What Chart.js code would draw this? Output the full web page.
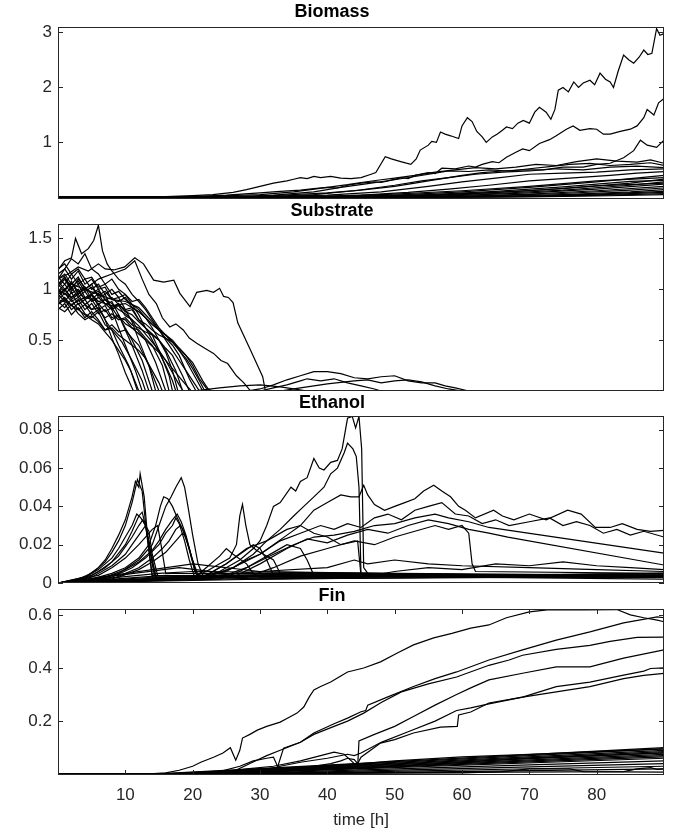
<!DOCTYPE html>
<html>
<head>
<meta charset="utf-8">
<script src="https://cdn.jsdelivr.net/npm/chart.js@4.4.0/dist/chart.umd.min.js"></script>
<style>
  body { margin: 0; background: #fff; }
  canvas { position: absolute; left: 0; }
</style>
</head>
<body>
<canvas id="biomass" width="686" height="200" style="top:0"></canvas>
<canvas id="substrate" width="686" height="192" style="top:200px"></canvas>
<canvas id="ethanol" width="686" height="208" style="top:392px"></canvas>
<canvas id="fin" width="686" height="252" style="top:585px"></canvas>
<script>
// tick labels
const timeTicks = [10, 20, 30, 40, 50, 60, 70, 80];
const biomassTicks = [1, 2, 3];
const substrateTicks = [0.5, 1, 1.5];
const ethanolTicks = [0, 0.02, 0.04, 0.06, 0.08];
const finTicks = [0.2, 0.4, 0.6];

// each run is a list of [time, value] pairs
const biomassRuns = [
  [[0,0],[10,0.002],[15,0.01],[20,0.03],[23,0.05],[26,0.09],[28,0.14],[30,0.2],[32,0.26],[34,0.3],[35,0.33],[36,0.36],[37,0.34],[38,0.38],[39,0.36],[40.5,0.38],[42,0.35],[43.5,0.34],[45,0.36],[46.5,0.42],[47.2,0.45],[48.6,0.74],[49.5,0.7],[50.9,0.65],[52.4,0.6],[53.2,0.7],[53.8,0.86],[55,0.95],[55.5,1.02],[56.2,1.0],[56.8,1.19],[57.5,1.15],[58.3,1.12],[59.5,1.07],[60,1.3],[60.8,1.45],[61.5,1.38],[62.2,1.2],[63,1.1],[63.6,1.0],[64.5,1.1],[65.2,1.15],[66,1.22],[66.6,1.28],[67.5,1.25],[68.3,1.35],[69.1,1.4],[70,1.35],[70.8,1.55],[71.5,1.64],[72.5,1.55],[73.2,1.42],[73.8,1.6],[74.3,1.95],[75,2.0],[75.8,1.92],[76.6,2.1],[77.3,2.0],[78,2.08],[79,2.13],[79.7,2.05],[80.5,2.26],[81.3,2.15],[82,2.1],[82.5,2.0],[83.2,2.3],[84,2.59],[84.8,2.5],[85.5,2.44],[86.3,2.55],[87,2.68],[87.6,2.6],[88.2,2.62],[88.9,3.07],[89.4,2.95],[90,2.98]],
  [[0,0],[15,0.005],[20,0.015],[25,0.04],[30,0.08],[33,0.11],[36,0.13],[38,0.16],[40,0.18],[41.5,0.17],[43,0.22],[45,0.26],[47,0.28],[48,0.27],[49,0.3],[51,0.36],[52,0.34],[53,0.4],[55,0.45],[56,0.43],[57,0.53],[59,0.52],[61,0.57],[62,0.55],[63,0.6],[64.5,0.65],[65.5,0.63],[66.6,0.73],[68,0.82],[69,0.88],[70,0.85],[71.5,0.98],[73,1.05],[74,1.12],[75.5,1.24],[76.5,1.3],[77.5,1.22],[79,1.25],[80,1.24],[81,1.15],[82,1.15],[83.5,1.2],[85,1.24],[86,1.3],[87,1.45],[87.5,1.6],[88.5,1.5],[89.2,1.72],[90,1.8]],
  [[0,0],[20,0.005],[30,0.02],[40,0.08],[45,0.13],[50,0.2],[53,0.26],[55,0.3],[58,0.36],[60,0.4],[63,0.45],[66,0.48],[69,0.5],[72,0.5],[75,0.55],[78,0.55],[80,0.6],[82,0.62],[84,0.72],[85.5,0.85],[86.5,1.04],[87.5,0.95],[88.9,0.91],[90,1.04]],
  [[0,0],[20,0.01],[30,0.05],[35,0.1],[40,0.18],[43,0.23],[45,0.27],[48,0.32],[50,0.35],[53,0.4],[56,0.46],[59,0.5],[62,0.54],[65,0.52],[68,0.55],[71,0.6],[74,0.58],[77,0.65],[80,0.7],[83,0.66],[86,0.64],[88,0.68],[90,0.62]],
  [[0,0],[25,0.01],[32,0.04],[38,0.1],[42,0.18],[46,0.25],[50,0.32],[53,0.38],[56,0.44],[58,0.48],[61,0.47],[64,0.5],[67,0.48],[70,0.52],[73,0.56],[76,0.6],[79,0.62],[82,0.58],[85,0.6],[88,0.63],[90,0.58]],
  [[0,0],[30,0.01],[38,0.05],[44,0.12],[50,0.22],[54,0.3],[58,0.36],[62,0.42],[66,0.46],[70,0.48],[74,0.52],[78,0.5],[82,0.55],[86,0.57],[90,0.54]],
  [[0,0],[30,0.008],[40,0.04],[48,0.1],[55,0.2],[60,0.28],[65,0.35],[70,0.42],[75,0.44],[80,0.46],[85,0.5],[90,0.52]],
  [[0,0],[35,0.008],[45,0.04],[52,0.09],[58,0.15],[64,0.22],[70,0.3],[76,0.35],[82,0.4],[86,0.44],[90,0.47]],
  [[0,0],[40,0.01],[50,0.04],[60,0.1],[70,0.18],[80,0.28],[90,0.4]],
  [[0,0],[40,0.005],[55,0.04],[65,0.09],[75,0.16],[85,0.26],[90,0.33]],
  [[0,0],[45,0.006],[55,0.03],[65,0.07],[75,0.13],[85,0.22],[90,0.28]],
  [[0,0],[50,0.01],[60,0.035],[70,0.08],[80,0.15],[90,0.24]],
  [[0,0],[50,0.005],[60,0.02],[70,0.06],[80,0.12],[90,0.2]],
  [[0,0],[55,0.008],[65,0.03],[75,0.07],[85,0.13],[90,0.17]],
  [[0,0],[55,0.005],[65,0.02],[75,0.05],[85,0.1],[90,0.14]],
  [[0,0],[60,0.008],[70,0.025],[80,0.06],[90,0.11]],
  [[0,0],[60,0.005],[70,0.018],[80,0.045],[90,0.09]],
  [[0,0],[65,0.008],[75,0.025],[85,0.05],[90,0.07]],
  [[0,0],[70,0.01],[80,0.025],[90,0.05]],
  [[0,0],[40,0.02],[50,0.06],[60,0.12],[70,0.2],[80,0.3],[90,0.36]],
  [[0,0],[45,0.015],[55,0.05],[65,0.11],[75,0.19],[85,0.29],[90,0.31]],
  [[0,0],[50,0.02],[60,0.06],[70,0.12],[80,0.21],[90,0.26]]
];

const substrateRuns = [
  [[0,1.02],[1,1.1],[2,0.98],[3,1.05],[4,0.92],[5,0.95],[6,0.84],[7,0.7],[8,0.52],[9,0.36],[10,0.18],[11.2,0],[90,0]],
  [[0,0.95],[1,0.88],[2,0.97],[3,0.85],[4,0.9],[5,0.8],[6,0.82],[7,0.7],[8,0.6],[9,0.45],[10.5,0.25],[12,0],[90,0]],
  [[0,1.1],[1,1.15],[2,1.05],[3,1.12],[4,1.0],[5,1.05],[6,0.92],[7,0.95],[8,0.8],[9,0.62],[10,0.45],[11.5,0.2],[12.5,0],[90,0]],
  [[0,0.85],[1,0.9],[2,0.8],[3,0.86],[4,0.76],[5,0.72],[6,0.78],[7,0.65],[8,0.6],[9.5,0.48],[11,0.3],[12.5,0.1],[13,0],[90,0]],
  [[0,1.05],[1,0.98],[2,1.08],[3,0.95],[4,1.02],[5,0.9],[6,0.96],[7,0.85],[8,0.88],[9,0.75],[10,0.6],[11,0.45],[12.5,0.2],[13.5,0],[90,0]],
  [[0,0.92],[1,1.0],[2,0.9],[3,0.95],[4,0.85],[5,0.9],[6,0.8],[7,0.84],[8,0.72],[9,0.75],[10,0.62],[11,0.5],[12.5,0.3],[14,0],[90,0]],
  [[0,1.15],[1,1.2],[2,1.1],[3,1.18],[4,1.05],[5,1.1],[6,1.0],[7,1.02],[8,0.9],[9,0.92],[10,0.8],[11,0.68],[12,0.5],[13.5,0.25],[14.5,0],[90,0]],
  [[0,0.8],[1,0.86],[2,0.75],[3,0.82],[4,0.72],[5,0.78],[6,0.7],[7,0.6],[8,0.65],[9,0.58],[10,0.6],[11,0.52],[12,0.45],[13.5,0.25],[15,0],[90,0]],
  [[0,1.0],[1,0.95],[2,1.02],[3,0.92],[4,0.98],[5,0.88],[6,0.92],[7,0.86],[8,0.8],[9,0.84],[10,0.74],[11,0.7],[12,0.58],[13,0.5],[14.5,0.28],[16,0],[90,0]],
  [[0,0.9],[1,0.96],[2,0.88],[3,0.92],[4,0.85],[5,0.8],[6,0.86],[7,0.78],[8,0.82],[9,0.72],[10,0.7],[11,0.62],[12,0.6],[13,0.52],[14,0.45],[15.5,0.25],[16.5,0],[90,0]],
  [[0,1.08],[1,1.0],[2,1.06],[3,0.98],[4,1.02],[5,0.95],[6,0.98],[7,0.9],[8,0.92],[9,0.85],[10,0.8],[11,0.82],[12,0.7],[13,0.62],[14,0.55],[15,0.4],[16.5,0.15],[17,0],[90,0]],
  [[0,0.98],[1,1.05],[2,0.96],[3,1.0],[4,0.9],[5,0.95],[6,0.88],[7,0.9],[8,0.82],[9,0.86],[10,0.78],[11,0.75],[12,0.68],[13,0.62],[14,0.56],[15,0.5],[16,0.38],[17,0.2],[17.8,0],[90,0]],
  [[0,1.2],[1,1.25],[2,1.15],[3,1.2],[4,1.1],[5,1.12],[6,1.02],[7,1.05],[8,0.95],[9,0.98],[10,0.9],[11,0.85],[12,0.8],[13,0.72],[14,0.62],[15,0.5],[16,0.4],[17.5,0.2],[18.5,0],[90,0]],
  [[0,0.88],[1,0.82],[2,0.9],[3,0.8],[4,0.85],[5,0.75],[6,0.8],[7,0.72],[8,0.76],[9,0.7],[10,0.72],[11,0.65],[12,0.62],[13,0.58],[14,0.55],[15,0.5],[16,0.42],[17,0.35],[18.5,0.15],[19.5,0],[90,0]],
  [[0,1.05],[1,1.12],[2,1.02],[3,1.08],[4,0.98],[5,1.02],[6,0.94],[7,0.98],[8,0.9],[9,0.88],[10,0.92],[11,0.82],[12,0.78],[13,0.72],[14,0.65],[15,0.6],[16,0.52],[17,0.45],[18,0.35],[19.5,0.12],[20.5,0],[90,0]],
  [[0,0.95],[1,1.0],[2,0.92],[3,0.98],[4,0.9],[5,0.94],[6,0.85],[7,0.9],[8,0.82],[9,0.85],[10,0.78],[11,0.8],[12,0.7],[13,0.66],[14,0.6],[15,0.55],[16,0.52],[17,0.48],[18,0.4],[19,0.3],[20.5,0.12],[21.5,0],[90,0]],
  [[0,1.12],[1,1.05],[2,1.15],[3,1.05],[4,1.1],[5,1.0],[6,1.05],[7,0.95],[8,1.0],[9,0.92],[10,0.95],[11,0.88],[12,0.9],[13,0.82],[14,0.72],[15,0.62],[16,0.55],[17,0.48],[18,0.42],[19,0.35],[20,0.28],[21.5,0.1],[22.5,0],[90,0]],
  [[0,1.19],[1,1.28],[2,1.31],[2.6,1.5],[3.5,1.35],[4.5,1.4],[5.3,1.48],[6,1.63],[6.6,1.38],[7.3,1.25],[8,1.18],[9,1.1],[10,1.05],[11,0.95],[12,0.88],[13,0.8],[14,0.7],[15,0.6],[16,0.5],[17,0.4],[18,0.3],[19,0.2],[20.5,0.05],[21,0],[90,0]],
  [[0,1.1],[1.5,1.15],[3,1.22],[4.5,1.18],[6,1.25],[7,1.2],[8.3,1.19],[9.9,1.22],[11.4,1.31],[12.7,1.25],[14.2,1.09],[15.7,1.07],[17.2,1.09],[18.1,0.96],[19.6,0.83],[20.6,0.97],[22.1,0.99],[23.1,0.97],[24,1.01],[24.6,0.93],[25.3,0.92],[26,0.87],[26.7,0.67],[28.6,0.4],[30.4,0.14],[30.8,0],[90,0]],
  [[0,0.95],[2,1.05],[4,1.0],[6,1.1],[8,1.15],[10,1.2],[11.4,1.28],[12.5,1.1],[13.5,0.95],[14.6,0.86],[15.5,0.72],[16.6,0.63],[17.5,0.66],[18.6,0.6],[19.5,0.52],[20.6,0.47],[21.8,0.42],[23.1,0.37],[24.2,0.3],[25.2,0.27],[26.5,0.15],[27.6,0.08],[28.6,0],[90,0]],
  [[0,1.0],[2,0.92],[4,1.0],[6,0.95],[8,0.9],[10,0.88],[12,0.82],[13,0.75],[14,0.68],[15,0.6],[16,0.55],[17,0.5],[18,0.42],[19,0.35],[20,0.25],[21,0.12],[22,0.03],[23,0],[90,0]],
  [[0,0.9],[2,0.85],[4,0.92],[6,0.88],[8,0.84],[10,0.86],[12,0.78],[13,0.72],[14,0.66],[15,0.6],[16,0.55],[17,0.48],[18,0.4],[19,0.32],[20,0.22],[21,0.1],[21.8,0],[90,0]],
  [[0,1.0],[1,0.9],[2,0.84],[3,0.8],[4,0.75],[5,0.7],[6,0.66],[7,0.58],[8,0.5],[9,0.4],[10,0.3],[10.8,0.2],[11.8,0],[90,0]],
  [[0,1.1],[1,1.2],[2,1.3],[3,1.25],[4,1.35],[5,1.2],[6,1.15],[7,1.05],[8,1.1],[9,1.0],[10,0.95],[11,0.85],[12,0.75],[13,0.62],[14,0.5],[15,0.38],[16,0.25],[17,0.1],[17.5,0],[90,0]],
  [[0,0.82],[1,0.78],[2,0.85],[3,0.76],[4,0.7],[5,0.74],[6,0.68],[7,0.6],[8,0.62],[9,0.55],[10,0.5],[11,0.45],[12,0.4],[13,0.32],[14,0.2],[15,0.08],[15.5,0],[90,0]],
  [[0,1.04],[1,1.12],[2,1.0],[3,1.1],[4,1.02],[5,0.96],[6,1.0],[7,0.9],[8,0.86],[9,0.8],[10,0.76],[11,0.7],[12,0.64],[13,0.56],[14,0.48],[15,0.4],[16,0.3],[17,0.18],[18,0.06],[18.6,0],[90,0]],
  [[0,0.86],[1,0.92],[2,0.84],[3,0.9],[4,0.8],[5,0.86],[6,0.76],[7,0.8],[8,0.7],[9,0.74],[10,0.66],[11,0.62],[12,0.56],[13,0.5],[14,0.44],[15,0.38],[16,0.3],[17,0.22],[18,0.14],[19,0.06],[19.8,0],[90,0]],
  [[28,0],[30,0.02],[32,0.06],[34,0.11],[36,0.15],[38,0.19],[40,0.19],[42,0.17],[44,0.13],[46,0.12],[48,0.14],[50,0.15],[52,0.1],[54,0.08],[56,0.08],[57.5,0.05],[59,0.03],[61,0],[90,0]],
  [[30,0],[32,0.03],[34,0.06],[36,0.1],[37,0.12],[39,0.1],[41,0.12],[43,0.08],[45,0.05],[47,0.02],[48,0],[90,0]],
  [[33,0],[36,0.03],[40,0.07],[44,0.1],[46,0.11],[48,0.08],[50,0.1],[52,0.11],[54,0.09],[56,0.05],[58,0.02],[60,0],[90,0]],
  [[20,0],[24,0.03],[27,0.05],[30,0.06],[33,0.04],[35,0.02],[37,0],[90,0]]
];

const ethanolRuns = [
  [[0,0],[2,0.001],[4,0.003],[6,0.008],[7,0.012],[8,0.018],[9,0.025],[10,0.033],[11,0.045],[11.5,0.053],[12,0.05],[12.2,0.057],[12.8,0.045],[13.4,0.02],[14,0.003],[20,0.003],[40,0.004],[60,0.003],[90,0.004]],
  [[0,0],[3,0.002],[5,0.005],[7,0.011],[8,0.016],[9,0.022],[10,0.03],[11,0.042],[11.8,0.054],[12.5,0.048],[13.2,0.025],[14,0.004],[30,0.003],[60,0.004],[90,0.003]],
  [[0,0],[4,0.003],[6,0.007],[8,0.013],[9,0.018],[10,0.024],[11,0.03],[11.7,0.036],[12.3,0.034],[13,0.03],[13.6,0.018],[14.3,0.004],[40,0.003],[90,0.005]],
  [[0,0],[4,0.002],[6,0.006],[8,0.011],[10,0.02],[11,0.027],[12,0.035],[12.5,0.037],[13,0.03],[14,0.012],[14.6,0.003],[50,0.004],[90,0.003]],
  [[0,0],[5,0.004],[7,0.008],[9,0.014],[10,0.019],[11,0.024],[12,0.03],[12.6,0.033],[13.2,0.028],[13.8,0.015],[14.5,0.003],[90,0.004]],
  [[0,0],[5,0.003],[8,0.009],[10,0.015],[11,0.02],[12,0.025],[13,0.03],[13.5,0.027],[14,0.015],[14.8,0.004],[90,0.003]],
  [[0,0],[6,0.004],[8,0.008],[10,0.013],[12,0.02],[13,0.024],[14,0.028],[14.8,0.03],[15.3,0.02],[16,0.005],[90,0.004]],
  [[0,0],[5,0.002],[8,0.005],[10,0.008],[12,0.013],[13.5,0.02],[14.5,0.03],[15.2,0.04],[15.7,0.045],[16.3,0.044],[17,0.04],[17.6,0.035],[18.5,0.028],[19.5,0.018],[20.5,0.005],[21,0.003],[90,0.004]],
  [[0,0],[6,0.002],[9,0.005],[12,0.012],[14,0.02],[15,0.03],[16,0.04],[16.8,0.045],[17.5,0.05],[18.3,0.055],[18.8,0.05],[19.3,0.04],[20,0.025],[20.8,0.01],[21.5,0.004],[90,0.003]],
  [[0,0],[7,0.003],[10,0.007],[12,0.011],[14,0.017],[15,0.022],[16,0.028],[17,0.033],[17.7,0.036],[18.3,0.032],[19,0.025],[19.8,0.014],[20.6,0.004],[90,0.004]],
  [[0,0],[8,0.003],[11,0.008],[13,0.013],[15,0.02],[16,0.026],[17,0.03],[17.5,0.034],[18,0.031],[18.8,0.022],[19.5,0.012],[20.2,0.004],[90,0.003]],
  [[0,0],[8,0.002],[12,0.008],[14,0.013],[15.5,0.018],[16.5,0.022],[17.5,0.028],[18.2,0.03],[18.8,0.026],[19.6,0.016],[20.4,0.005],[90,0.004]],
  [[0,0],[9,0.003],[12,0.007],[14,0.011],[16,0.016],[17.5,0.022],[18.5,0.026],[19,0.024],[19.8,0.014],[20.8,0.004],[90,0.003]],
  [[0,0],[20,0.003],[22,0.006],[24,0.01],[25.5,0.013],[26.5,0.02],[27,0.035],[27.4,0.041],[27.9,0.03],[28.5,0.02],[29.5,0.017],[30.5,0.015],[32,0.012],[33,0.005],[34,0.003],[90,0.004]],
  [[0,0],[20,0.002],[24,0.006],[27,0.012],[29,0.018],[30,0.022],[31,0.03],[32,0.04],[33,0.042],[34.6,0.05],[35.3,0.048],[36,0.053],[37,0.055],[38,0.065],[38.8,0.06],[39.5,0.059],[40.5,0.063],[41.5,0.064],[42.2,0.07],[43,0.086],[43.7,0.087],[44.2,0.081],[44.7,0.087],[45.1,0.07],[45.4,0.008],[46,0.005],[50,0.004],[70,0.003],[90,0.004]],
  [[0,0],[22,0.003],[26,0.008],[29,0.015],[31,0.022],[33,0.028],[35,0.035],[36.5,0.04],[38,0.045],[39.5,0.05],[40.5,0.057],[41.5,0.06],[42.5,0.068],[43,0.073],[43.8,0.07],[44.3,0.066],[44.7,0.05],[45,0.004],[60,0.003],[90,0.004]],
  [[0,0],[20,0.003],[25,0.006],[28,0.012],[30,0.015],[32,0.02],[34,0.025],[36,0.03],[38,0.038],[40,0.042],[42,0.046],[43.5,0.045],[44.7,0.045],[45.4,0.051],[46,0.046],[47,0.041],[48.5,0.038],[50,0.04],[51.5,0.042],[53,0.044],[54.3,0.048],[55.8,0.051],[57,0.048],[58.3,0.045],[59.5,0.04],[60.5,0.038],[62,0.034],[64.7,0.038],[66,0.035],[67.7,0.033],[70,0.036],[72.5,0.033],[75.7,0.038],[77.7,0.036],[79.8,0.029],[82,0.029],[83.8,0.031],[86,0.028],[88,0.027],[90,0.0275]],
  [[0,0],[22,0.003],[26,0.008],[30,0.015],[33,0.022],[36,0.026],[39,0.03],[41,0.028],[43,0.031],[45,0.029],[47,0.034],[49,0.036],[51,0.033],[53,0.038],[55,0.04],[57,0.042],[59,0.036],[61,0.035],[63,0.031],[65,0.033],[67,0.03],[70,0.032],[73,0.034],[75,0.03],[77,0.032],[79,0.03],[81,0.026],[83,0.028],[85,0.025],[87,0.027],[90,0.024]],
  [[0,0],[24,0.003],[28,0.008],[32,0.015],[35,0.02],[38,0.024],[41,0.025],[44,0.027],[47,0.03],[50,0.031],[53,0.034],[56,0.036],[58,0.034],[61,0.032],[64,0.029],[90,0.0156]],
  [[0,0],[26,0.003],[30,0.01],[34,0.018],[37,0.023],[40,0.021],[43,0.025],[46,0.028],[49,0.026],[52,0.03],[55,0.033],[58,0.031],[61,0.028],[64,0.026],[66.8,0.024],[90,0.0094]],
  [[0,0],[28,0.003],[32,0.008],[36,0.014],[40,0.018],[44,0.022],[47,0.02],[50,0.024],[53,0.027],[56,0.03],[58,0.028],[60,0.03],[61,0.026],[61.5,0.01],[62,0.006],[90,0.005]],
  [[0,0],[22,0.004],[25,0.01],[28,0.018],[31,0.022],[34,0.028],[36,0.03],[38,0.026],[40,0.024],[42,0.02],[44.5,0.022],[45,0.004],[90,0.004]],
  [[0,0],[20,0.002],[22,0.008],[24,0.014],[25,0.018],[26,0.015],[28,0.01],[29,0.005],[30,0.003],[90,0.003]],
  [[0,0],[21,0.002],[23,0.006],[25,0.01],[27,0.015],[29,0.02],[30,0.018],[31,0.012],[32,0.004],[90,0.004]],
  [[0,0],[24,0.002],[27,0.006],[30,0.012],[32,0.016],[34,0.02],[36,0.018],[37,0.012],[38,0.004],[90,0.003]],
  [[0,0],[45,0.003],[50,0.006],[55,0.008],[60,0.007],[65,0.01],[70,0.009],[75,0.011],[80,0.009],[85,0.008],[90,0.007]],
  [[0,0],[20,0.003],[30,0.006],[40,0.008],[44,0.012],[46,0.01],[50,0.012],[55,0.01],[60,0.009],[70,0.008],[80,0.007],[90,0.006]],
  [[0,0],[15,0.005],[20,0.006],[50,0.005],[90,0.004]],
  [[0,0],[18,0.008],[25,0.005],[60,0.004],[90,0.005]],
  [[0,0],[20,0.01],[30,0.006],[90,0.003]],
  [[0,0],[16,0.004],[30,0.002],[60,0.003],[90,0.002]],
  [[0,0],[14,0.003],[40,0.005],[70,0.004],[90,0.005]],
  [[0,0],[20,0.002],[50,0.0025],[90,0.0035]]
];

const finRuns = [
  [[0,0],[13,0],[16,0.005],[18,0.015],[20,0.03],[21.2,0.045],[23.1,0.064],[24.5,0.08],[25.6,0.1],[26.4,0.053],[27,0.09],[27.4,0.136],[28.5,0.15],[29.6,0.166],[31,0.18],[33,0.196],[34,0.21],[35.5,0.23],[36.5,0.253],[37.3,0.29],[38,0.317],[39,0.33],[40.5,0.347],[42,0.37],[43,0.385],[45.4,0.4],[47.9,0.423],[50.4,0.456],[52.8,0.487],[55.8,0.513],[58.5,0.53],[61.3,0.55],[64,0.562],[66.6,0.589],[70,0.611],[73,0.62],[78,0.619],[83,0.62],[85,0.6],[87,0.589],[89,0.58],[90,0.574]],
  [[0,0],[20,0],[28,0.01],[31,0.02],[32.6,0.026],[33.5,0.098],[36,0.12],[38,0.155],[41,0.19],[43,0.211],[45,0.235],[45.7,0.24],[46,0.26],[48.9,0.29],[52.8,0.33],[56,0.36],[59.2,0.385],[60.8,0.4],[64,0.43],[69,0.468],[74,0.505],[79,0.536],[84,0.57],[89,0.592],[90,0.589]],
  [[0,0],[22,0],[26,0.01],[28.5,0.04],[31,0.07],[33,0.09],[36,0.12],[38,0.15],[41,0.18],[43,0.2],[45.4,0.23],[48,0.27],[51,0.31],[55,0.34],[59.2,0.366],[64,0.41],[67,0.43],[69,0.448],[74,0.47],[79,0.485],[82,0.5],[86,0.515],[90,0.516]],
  [[0,0],[26,0],[30,0.01],[34,0.02],[38,0.03],[40.5,0.04],[42,0.05],[43,0.06],[44,0.055],[44.5,0.04],[45,0.064],[47.9,0.117],[50,0.13],[52.8,0.155],[56.8,0.177],[59.3,0.18],[59.5,0.223],[61.3,0.234],[64,0.268],[69,0.29],[74,0.33],[79,0.347],[84,0.373],[87,0.388],[88,0.398],[90,0.4]],
  [[0,0],[24,0],[28,0.008],[32,0.016],[36,0.022],[40,0.024],[44.5,0.026],[44.7,0.125],[47,0.15],[50,0.18],[53,0.22],[56,0.26],[59.2,0.3],[61.3,0.325],[64,0.355],[69,0.38],[74,0.404],[79,0.404],[84,0.437],[90,0.468]],
  [[0,0],[27,0],[30,0.01],[33,0.03],[36,0.045],[40,0.06],[43,0.075],[44,0.07],[45,0.08],[48,0.12],[52,0.16],[56,0.2],[59.2,0.24],[61.3,0.25],[64,0.265],[69,0.29],[74,0.31],[79,0.33],[84,0.36],[87,0.372],[90,0.38]],
  [[0,0],[20,0],[24,0.01],[27,0.03],[29,0.05],[31,0.06],[32,0.064],[32.6,0.03],[33,0.02],[45,0.04],[50,0.05],[60,0.065],[70,0.075],[80,0.085],[90,0.095]],
  [[0,0],[22,0],[28,0.02],[32,0.03],[36,0.05],[39,0.07],[41,0.083],[42.5,0.075],[44,0.04],[44.5,0.02],[50,0.03],[60,0.045],[70,0.06],[80,0.07],[90,0.08]],
  [[0,0],[14,0],[90,0.1]],
  [[0,0],[15,0],[90,0.095]],
  [[0,0],[16,0],[90,0.09]],
  [[0,0],[17,0],[90,0.085]],
  [[0,0],[18,0],[90,0.08]],
  [[0,0],[19,0],[90,0.075]],
  [[0,0],[20,0],[90,0.07]],
  [[0,0],[21,0],[90,0.065]],
  [[0,0],[22,0],[90,0.06]],
  [[0,0],[24,0],[90,0.05]],
  [[0,0],[26,0],[90,0.04]],
  [[0,0],[28,0],[90,0.03]],
  [[0,0],[30,0],[90,0.02]],
  [[0,0],[60,0.005],[66,0.01],[70,0.02],[76,0.02],[78,0.01],[90,0.008]],
  [[0,0],[40,0.005],[84,0.01],[86,0.02],[88,0.025],[89,0.018],[90,0.02]]
];

const AXIS_COLOR = '#262626';
const FONT = "'Liberation Sans', Arial, Helvetica, sans-serif";

// MATLAB style box with inward ticks
const boxPlugin = {
  id: 'matlabBox',
  afterDatasetsDraw(chart, args, opts) {
    const { ctx, chartArea: a, scales } = chart;
    const len = 5;
    ctx.save();
    ctx.strokeStyle = AXIS_COLOR;
    ctx.lineWidth = 1;
    ctx.beginPath();
    scales.y.ticks.forEach(t => {
      const py = Math.round(scales.y.getPixelForValue(t.value)) + 0.5;
      ctx.moveTo(a.left, py); ctx.lineTo(a.left + len, py);
      ctx.moveTo(a.right - len, py); ctx.lineTo(a.right, py);
    });
    if (opts.xTicks) {
      scales.x.ticks.forEach(t => {
        const px = Math.round(scales.x.getPixelForValue(t.value)) + 0.5;
        ctx.moveTo(px, a.top); ctx.lineTo(px, a.top + len);
        ctx.moveTo(px, a.bottom - len); ctx.lineTo(px, a.bottom);
      });
    }
    ctx.stroke();
    ctx.strokeRect(a.left + 0.5, a.top + 0.5, a.right - a.left - 1, a.bottom - a.top - 1);
    ctx.restore();
  }
};

function makePanel(id, title, runs, yMin, yMax, yTicks, opts) {
  const last = !!opts.last;
  new Chart(document.getElementById(id), {
    type: 'scatter',
    data: {
      datasets: runs.map(run => ({
        data: run.map(([x, y]) => ({ x, y })),
        showLine: true,
        borderColor: '#000',
        borderWidth: 1.2,
        pointRadius: 0,
        tension: 0
      }))
    },
    options: {
      responsive: false,
      animation: false,
      events: [],
      layout: { padding: { left: 0, right: 22, top: 0, bottom: opts.bottomPad } },
      plugins: {
        legend: { display: false },
        tooltip: { enabled: false },
        title: {
          display: true,
          text: title,
          color: '#000',
          font: { family: FONT, size: 18, weight: 'bold' },
          padding: { top: opts.titleTop, bottom: opts.titleBottom }
        },
        matlabBox: { xTicks: last }
      },
      scales: {
        x: {
          type: 'linear',
          min: 0,
          max: 90,
          display: last,
          afterBuildTicks: s => { s.ticks = timeTicks.map(v => ({ value: v })); },
          afterFit: s => { if (last) s.height = 62; s.paddingLeft = 0; s.paddingRight = 0; },
          grid: { display: false, drawTicks: false },
          border: { display: false },
          ticks: { color: AXIS_COLOR, font: { family: FONT, size: 17 }, padding: 9.8, autoSkip: false, maxRotation: 0 },
          title: {
            display: last,
            text: 'time [h]',
            color: AXIS_COLOR,
            font: { family: FONT, size: 17 },
            padding: { top: 0, bottom: 6.8 }
          }
        },
        y: {
          min: yMin,
          max: yMax,
          afterBuildTicks: s => { s.ticks = yTicks.map(v => ({ value: v })); },
          afterFit: s => { s.width = 58; s.paddingTop = 0; s.paddingBottom = 0; },
          grid: { display: false, drawTicks: false },
          border: { display: false },
          ticks: { color: AXIS_COLOR, font: { family: FONT, size: 17 }, padding: 6, autoSkip: false, callback: v => String(v) }
        }
      }
    },
    plugins: [boxPlugin]
  });
}

makePanel('biomass', 'Biomass', biomassRuns, -0.03, 3.1, biomassTicks, { titleTop: 1.2, titleBottom: 4.2, bottomPad: 1 });
makePanel('substrate', 'Substrate', substrateRuns, 0, 1.642, substrateTicks, { titleTop: 0.7, titleBottom: 1.7, bottomPad: 1 });
makePanel('ethanol', 'Ethanol', ethanolRuns, 0, 0.0872, ethanolTicks, { titleTop: 0.7, titleBottom: 1.7, bottomPad: 17 });
makePanel('fin', 'Fin', finRuns, -0.003, 0.622, finTicks, { titleTop: 0.7, titleBottom: 1.7, bottomPad: 0, last: true });
</script>
</body>
</html>
